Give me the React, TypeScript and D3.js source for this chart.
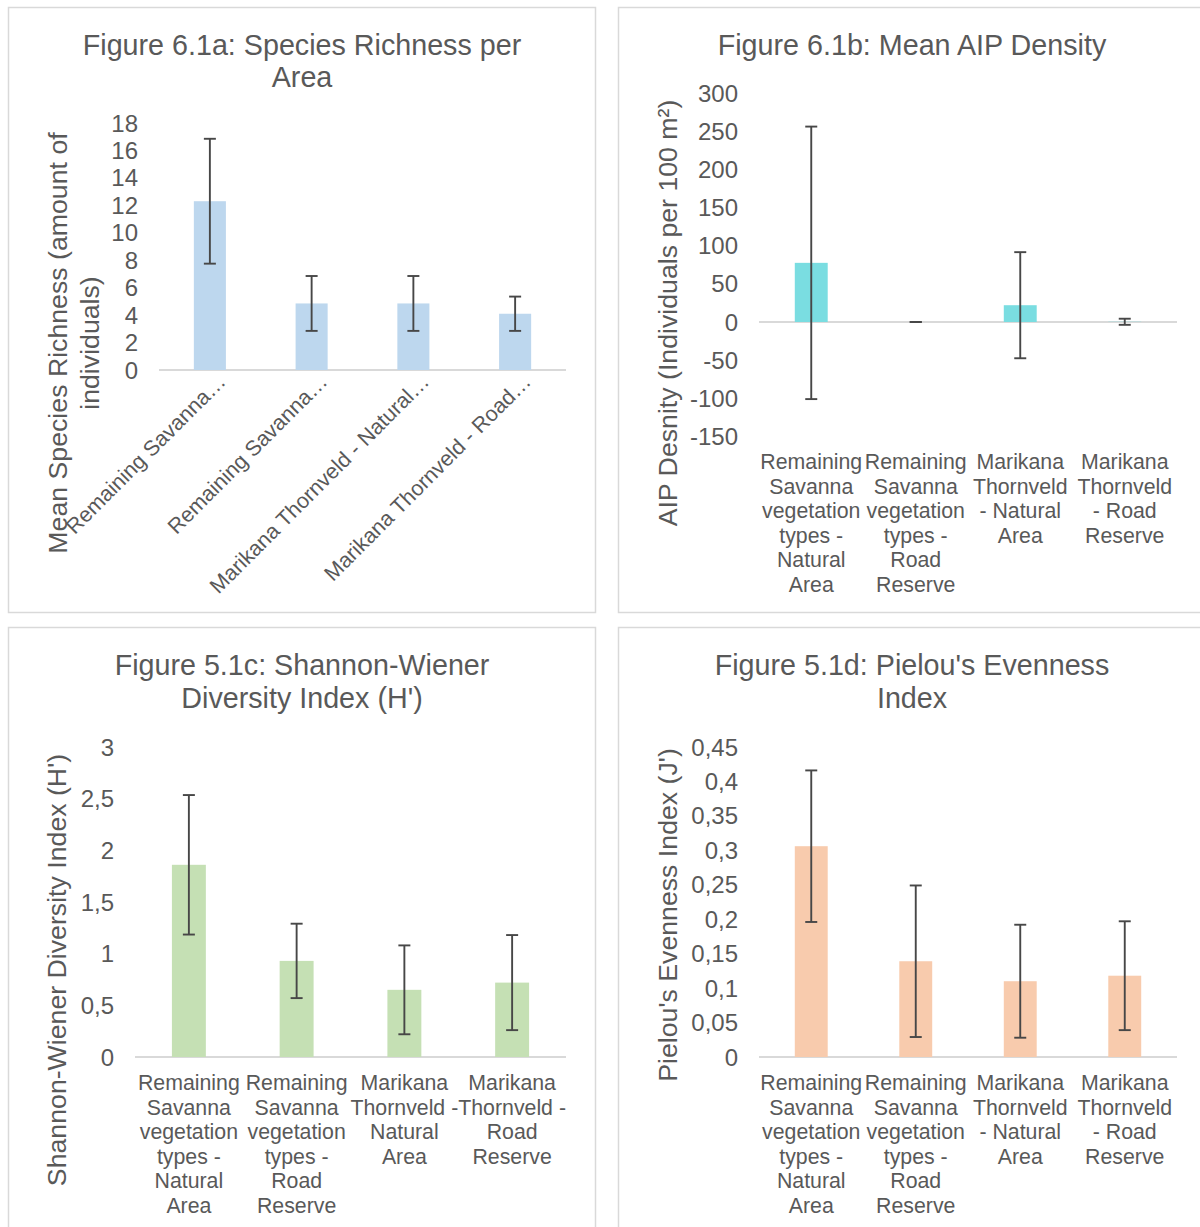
import React from 'react';
import * as d3 from 'd3';

// ---------- DATA ----------
const shortLabels = [
  'Remaining Savanna…',
  'Remaining Savanna…',
  'Marikana Thornveld - Natural…',
  'Marikana Thornveld - Road…',
];
const wrappedLabelsBD = [
  ['Remaining', 'Savanna', 'vegetation', 'types -', 'Natural', 'Area'],
  ['Remaining', 'Savanna', 'vegetation', 'types -', 'Road', 'Reserve'],
  ['Marikana', 'Thornveld', '- Natural', 'Area'],
  ['Marikana', 'Thornveld', '- Road', 'Reserve'],
];
const wrappedLabelsC = [
  ['Remaining', 'Savanna', 'vegetation', 'types -', 'Natural', 'Area'],
  ['Remaining', 'Savanna', 'vegetation', 'types -', 'Road', 'Reserve'],
  ['Marikana', 'Thornveld -', 'Natural', 'Area'],
  ['Marikana', 'Thornveld -', 'Road', 'Reserve'],
];

const richnessMean = [12.3, 4.85, 4.85, 4.1];
const richnessErr = [4.55, 2.0, 2.0, 1.25];
const richnessTicks = [0, 2, 4, 6, 8, 10, 12, 14, 16, 18];

const aipMean = [77.5, 0, 22, 0.3];
const aipErr = [178.5, 0, 69.5, 4];
const aipTicks = [-150, -100, -50, 0, 50, 100, 150, 200, 250, 300];

const shannonMean = [1.86, 0.93, 0.65, 0.72];
const shannonErr = [0.675, 0.36, 0.43, 0.46];
const shannonTicks = [0, 0.5, 1, 1.5, 2, 2.5, 3];

const pielouMean = [0.306, 0.139, 0.11, 0.118];
const pielouErr = [0.11, 0.11, 0.082, 0.079];
const pielouTicks = [0, 0.05, 0.1, 0.15, 0.2, 0.25, 0.3, 0.35, 0.4, 0.45];

// ---------- STYLE ----------
const FONT = "'Liberation Sans', Arial, sans-serif";
const TEXT = '#595959';
const GRID = '#d9d9d9';
const ERR = '#474747';

const commaFmt = (v: number) => String(+v.toFixed(2)).replace('.', ',');
const plainFmt = (v: number) => String(v);

type PanelProps = {
  frame: { x: number; y: number; w: number; h: number };
  title: string[];
  titleX: number;
  titleY: number[];
  yTitle: string[];
  yTitleX: number[];
  yTitleY: number;
  plot: { left: number; right: number; top: number; bottom: number };
  ticks: number[];
  fmt: (v: number) => string;
  means: number[];
  errs: number[];
  color: string;
  rotated?: string[];
  wrapped?: string[][];
  labelY: number;
  tickX: number;
};

function Panel(p: PanelProps) {
  const idx = d3.range(p.means.length).map(String);
  const x = d3.scaleBand<string>().domain(idx).range([p.plot.left, p.plot.right]);
  const ext = d3.extent(p.ticks) as [number, number];
  const y = d3.scaleLinear().domain(ext).range([p.plot.bottom, p.plot.top]);
  const bw = x.bandwidth() * 0.315;
  const cap = 6;
  return (
    <g>
      <rect x={p.frame.x} y={p.frame.y} width={p.frame.w} height={p.frame.h} fill="#fff" stroke={GRID} strokeWidth={1.5} />
      {p.title.map((t, i) => (
        <text key={i} x={p.titleX} y={p.titleY[i]} textAnchor="middle" dominantBaseline="central" fontSize={28.7} fill={TEXT} fontFamily={FONT}>{t}</text>
      ))}
      {p.yTitle.map((t, i) => (
        <text key={i} transform={`translate(${p.yTitleX[i]},${p.yTitleY}) rotate(-90)`} textAnchor="middle" dominantBaseline="central" fontSize={26.7} fill={TEXT} fontFamily={FONT}>{t}</text>
      ))}
      {p.ticks.map((t) => (
        <text key={t} x={p.tickX} y={y(t)} textAnchor="end" dominantBaseline="central" fontSize={24} fill={TEXT} fontFamily={FONT}>{p.fmt(t)}</text>
      ))}
      <line x1={p.plot.left} x2={p.plot.right} y1={y(0)} y2={y(0)} stroke={GRID} strokeWidth={2} />
      {p.means.map((m, i) => {
        const cx = (x(String(i)) as number) + x.bandwidth() / 2;
        const y1 = y(Math.max(0, m));
        const y2 = y(Math.min(0, m));
        return <rect key={i} x={cx - bw / 2} y={y1} width={bw} height={Math.max(0, y2 - y1)} fill={p.color} />;
      })}
      {p.means.map((m, i) => {
        const cx = (x(String(i)) as number) + x.bandwidth() / 2;
        const hi = y(m + p.errs[i]);
        const lo = y(m - p.errs[i]);
        return (
          <g key={i} stroke={ERR} strokeWidth={1.9}>
            <line x1={cx} x2={cx} y1={hi} y2={lo} />
            <line x1={cx - cap} x2={cx + cap} y1={hi} y2={hi} />
            <line x1={cx - cap} x2={cx + cap} y1={lo} y2={lo} />
          </g>
        );
      })}
      {p.rotated &&
        p.rotated.map((t, i) => {
          const cx = (x(String(i)) as number) + x.bandwidth() / 2;
          return (
            <text key={i} transform={`translate(${cx + 17},${p.labelY}) rotate(-45)`} textAnchor="end" fontSize={21.5} fill={TEXT} fontFamily={FONT}>{t}</text>
          );
        })}
      {p.wrapped &&
        p.wrapped.map((lines, i) => {
          const cx = (x(String(i)) as number) + x.bandwidth() / 2;
          return (
            <g key={i}>
              {lines.map((l, j) => (
                <text key={j} x={cx} y={p.labelY + j * 24.5} textAnchor="middle" dominantBaseline="central" fontSize={21.3} fill={TEXT} fontFamily={FONT}>{l}</text>
              ))}
            </g>
          );
        })}
    </g>
  );
}

export default function App() {
  return (
    <svg width={1200} height={1227} style={{ position: 'absolute', left: 0, top: 0, background: '#fff' }}>
      <rect x={0} y={0} width={1200} height={1227} fill="#fff" />
      <Panel
        frame={{ x: 8.5, y: 7.5, w: 587, h: 605 }}
        title={['Figure 6.1a: Species Richness per', 'Area']}
        titleX={302}
        titleY={[45, 77]}
        yTitle={['Mean Species Richness (amount of', 'individuals)']}
        yTitleX={[58, 90]}
        yTitleY={343}
        plot={{ left: 159, right: 566, top: 123, bottom: 370 }}
        ticks={richnessTicks}
        fmt={plainFmt}
        means={richnessMean}
        errs={richnessErr}
        color="#bdd7ee"
        rotated={shortLabels}
        labelY={383}
        tickX={138}
      />
      <Panel
        frame={{ x: 618.5, y: 7.5, w: 620, h: 605 }}
        title={['Figure 6.1b: Mean AIP Density']}
        titleX={912}
        titleY={[45]}
        yTitle={['AIP Desnity (Individuals per 100 m²)']}
        yTitleX={[668]}
        yTitleY={313}
        plot={{ left: 759, right: 1177, top: 93, bottom: 436.5 }}
        ticks={aipTicks}
        fmt={plainFmt}
        means={aipMean}
        errs={aipErr}
        color="#7adde1"
        wrapped={wrappedLabelsBD}
        labelY={462}
        tickX={738}
      />
      <Panel
        frame={{ x: 8.5, y: 627.5, w: 587, h: 620 }}
        title={['Figure 5.1c: Shannon-Wiener', "Diversity Index (H')"]}
        titleX={302}
        titleY={[665, 698]}
        yTitle={["Shannon-Wiener Diversity Index (H')"]}
        yTitleX={[57]}
        yTitleY={970}
        plot={{ left: 135, right: 566, top: 747, bottom: 1057 }}
        ticks={shannonTicks}
        fmt={commaFmt}
        means={shannonMean}
        errs={shannonErr}
        color="#c5e0b4"
        wrapped={wrappedLabelsC}
        labelY={1083}
        tickX={114}
      />
      <Panel
        frame={{ x: 618.5, y: 627.5, w: 620, h: 620 }}
        title={["Figure 5.1d: Pielou's Evenness", 'Index']}
        titleX={912}
        titleY={[665, 698]}
        yTitle={["Pielou's Evenness Index (J')"]}
        yTitleX={[668]}
        yTitleY={915}
        plot={{ left: 759, right: 1177, top: 747, bottom: 1057 }}
        ticks={pielouTicks}
        fmt={commaFmt}
        means={pielouMean}
        errs={pielouErr}
        color="#f8cbad"
        wrapped={wrappedLabelsBD}
        labelY={1083}
        tickX={738}
      />
    </svg>
  );
}
